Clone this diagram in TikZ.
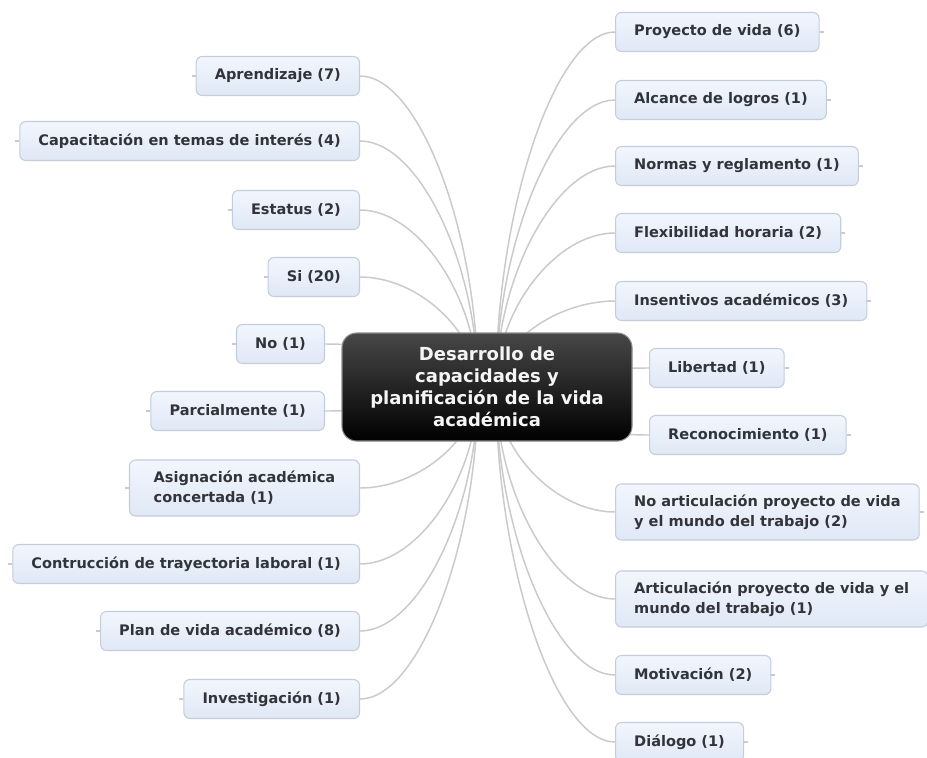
\documentclass[tikz,border=0pt]{standalone}
\usepackage{fontspec}
\setmainfont{DejaVu Sans}
\usetikzlibrary{calc,backgrounds}
\definecolor{leaftop}{RGB}{242,246,253}
\definecolor{leafbot}{RGB}{224,232,246}
\definecolor{leafline}{RGB}{196,205,219}
\definecolor{linkgray}{RGB}{202,202,202}
\definecolor{leaftext}{RGB}{50,52,58}
\tikzset{
  leaf/.style={draw=leafline, line width=0.8pt, rounded corners=4.5pt,
    top color=leaftop, bottom color=leafbot, text=leaftext,
    font=\fontsize{10.9}{15}\selectfont\bfseries, align=left,
    inner xsep=14pt, inner ysep=0pt, minimum height=29.25pt},
  leafL/.style={leaf, anchor=east},
  leafR/.style={leaf, anchor=west},
  twoline/.style={minimum height=42pt},
  rootbox/.style={draw=black!45, line width=0.8pt, rounded corners=11pt,
    top color=black!72, middle color=black, bottom color=black,
    text=white!96!black, font=\fontsize{13.5}{16.5}\selectfont\bfseries, align=center,
    minimum width=217.5pt, minimum height=81pt, inner sep=0pt},
  link/.style={draw=linkgray, line width=1.1pt},
  stub/.style={draw=linkgray, line width=0.8pt}
}
\newcommand\lnkL[1]{\draw[link] (#1.east) .. controls ($(#1.east)!0.5!(#1.east -| L)$) and ($(L)!0.5!(L |- #1.east)$) .. (L);
  \draw[stub] (#1.west) -- ++(-4,0);}
\newcommand\lnkR[1]{\draw[link] (#1.west) .. controls ($(#1.west)!0.5!(#1.west -| R)$) and ($(R)!0.5!(R |- #1.west)$) .. (R);
  \draw[stub] (#1.east) -- ++(4,0);}
\begin{document}
\begin{tikzpicture}[x=0.75pt, y=-0.75pt]
\clip (0,0) rectangle (927,757);
\useasboundingbox (0,0) rectangle (927,757);
\coordinate (L) at (478,388);
\coordinate (R) at (496,388);

\node[rootbox] (root) at (487,387) {Desarrollo de\\capacidades y\\planificación de la vida\\académica};

% left side
\node[leafL] (a1) at (360,76) {Aprendizaje (7)};
\node[leafL] (a2) at (360,141) {Capacitación en temas de interés (4)};
\node[leafL] (a3) at (360,210) {Estatus (2)};
\node[leafL] (a4) at (360,277) {Si (20)};
\node[leafL] (a5) at (325,344) {No (1)};
\node[leafL] (a6) at (325,411) {Parcialmente (1)};
\node[leafL, twoline, minimum width=172.5pt] (a7) at (360,488) {Asignación académica\\concertada (1)};
\node[leafL] (a8) at (360,564) {Contrucción de trayectoria laboral (1)};
\node[leafL] (a9) at (360,631) {Plan de vida académico (8)};
\node[leafL] (a10) at (360,699) {Investigación (1)};

% right side
\node[leafR] (b1) at (615,32) {Proyecto de vida (6)};
\node[leafR] (b2) at (615,100) {Alcance de logros (1)};
\node[leafR] (b3) at (615,166) {Normas y reglamento (1)};
\node[leafR] (b4) at (615,233) {Flexibilidad horaria (2)};
\node[leafR] (b5) at (615,301) {Insentivos académicos (3)};
\node[leafR] (b6) at (649,368) {Libertad (1)};
\node[leafR] (b7) at (649,435) {Reconocimiento (1)};
\node[leafR, twoline] (b8) at (615,512) {No articulación proyecto de vida\\y el mundo del trabajo (2)};
\node[leafR, twoline] (b9) at (615,599) {Articulación proyecto de vida y el\\mundo del trabajo (1)};
\node[leafR] (b10) at (615,675) {Motivación (2)};
\node[leafR] (b11) at (615,742) {Diálogo (1)};

\begin{pgfonlayer}{background}
\fill[white] (0,0) rectangle (927,757);
\foreach \n in {a1,a2,a3,a4,a5,a6,a7,a8,a9,a10}{\lnkL{\n}}
\foreach \n in {b1,b2,b3,b4,b5,b6,b7,b8,b9,b10,b11}{\lnkR{\n}}
\end{pgfonlayer}
\end{tikzpicture}
\end{document}
